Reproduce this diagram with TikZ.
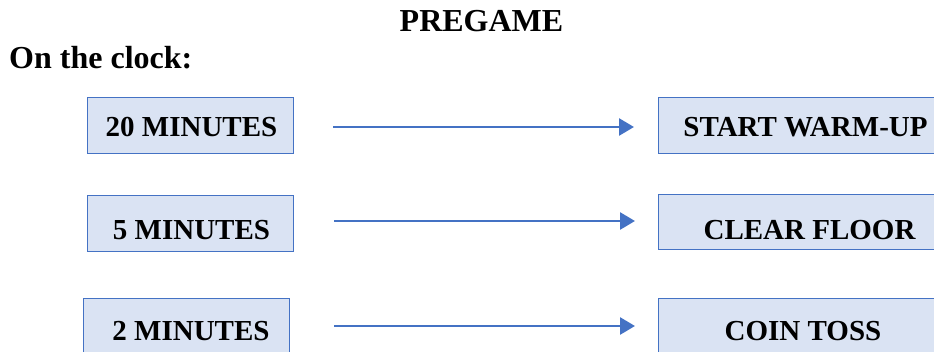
\documentclass[tikz,border=0pt]{standalone}
\usepackage{fontspec}
\setmainfont{Liberation Serif}
\usetikzlibrary{arrows.meta}
\definecolor{boxfill}{HTML}{DAE3F3}
\definecolor{boxline}{HTML}{4472C4}
\definecolor{arrowblue}{HTML}{4472C4}
\tikzset{
  box/.style={draw=boxline, fill=boxfill, line width=1.2pt, inner sep=0pt, anchor=north west, minimum height=#1},
  box/.default=56pt,
  boxtext/.style={font=\fontsize{29}{32}\selectfont\bfseries, inner sep=0pt, anchor=base},
  headtext/.style={font=\fontsize{32}{36}\selectfont\bfseries, inner sep=0pt, anchor=base},
  arr/.style={draw=arrowblue, line width=2.7pt, -{Triangle[length=15pt,width=17pt]}}
}
\begin{document}
\begin{tikzpicture}[x=1pt,y=-1pt]
\useasboundingbox (0,0) rectangle (934,351);
\node[headtext] (title) at (481.5,31) {PREGAME};
\node[headtext, anchor=base west] (clock) at (9,68) {On the clock:};
% left boxes
\node[box, minimum width=206pt] (b1) at (87,97) {};
\node[box, minimum width=206pt] (b2) at (87,195) {};
\node[box=70pt, minimum width=206pt] (b3) at (83,298) {};
% right boxes
\node[box, minimum width=300pt] (b4) at (658,97) {};
\node[box=55pt, minimum width=310pt] (b5) at (658,194) {};
\node[box=70pt, minimum width=300pt] (b6) at (658,298) {};
% texts
\node[boxtext] (t1) at (191.5,136.5) {20 MINUTES};
\node[boxtext] (t2) at (191.5,239) {5 MINUTES};
\node[boxtext] (t3) at (191,340) {2 MINUTES};
\node[boxtext] (t4) at (805.5,136.5) {START WARM-UP};
\node[boxtext] (t5) at (809.5,239) {CLEAR FLOOR};
\node[boxtext] (t6) at (803,340) {COIN TOSS};
% arrows
\coordinate (a1s) at (333,127); \coordinate (a1e) at (634,127);
\coordinate (a2s) at (334,221); \coordinate (a2e) at (635,221);
\coordinate (a3s) at (334,326); \coordinate (a3e) at (635,326);
\draw[arr] (a1s) -- (a1e);
\draw[arr] (a2s) -- (a2e);
\draw[arr] (a3s) -- (a3e);
\end{tikzpicture}
\end{document}
